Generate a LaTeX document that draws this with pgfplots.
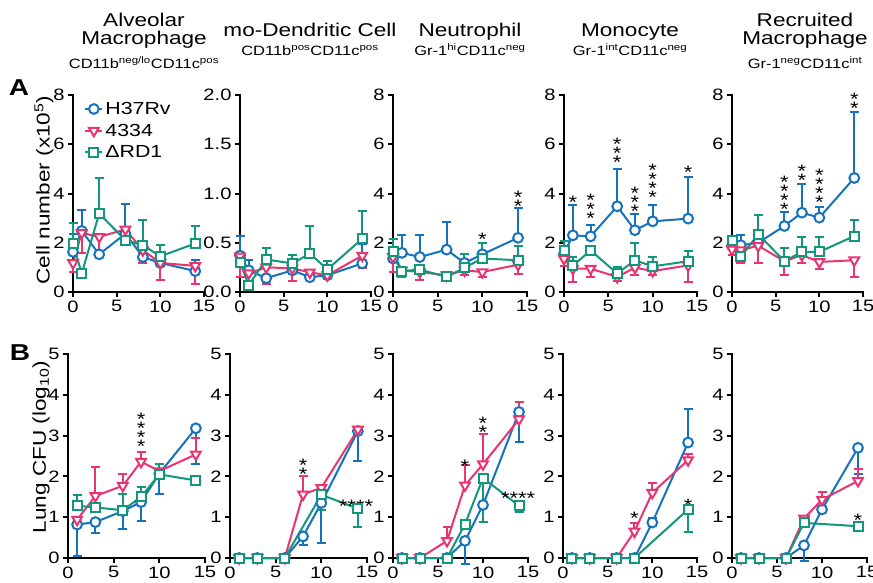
\documentclass[border=0pt]{standalone}
\usepackage{fontspec}
\setmainfont{Liberation Sans}[FakeStretch=1.22]
\usepackage{pgfplots}
\pgfplotsset{compat=1.18}

\definecolor{cb}{RGB}{21,114,189}
\definecolor{cp}{RGB}{233,52,112}
\definecolor{cg}{RGB}{18,150,124}

\newcommand\stfont{\fontsize{18}{9}\selectfont\lineskiplimit=-30pt\relax\lineskip=0pt\relax}
\tikzset{st/.style={font=\stfont, align=center, inner sep=0pt, yshift=-4pt}}
\pgfplotsset{
  gp/.style={
    scale only axis, anchor=south west, clip=false,
    axis lines*=left,
    axis line style={line width=2.2pt, black, line cap=rect},
    tick align=outside, major tick length=5pt,
    tick style={line width=2pt, black},
    xmin=0, xmax=15, xtick={0,5,10,15},
    tick label style={font=\fontsize{16.5}{18}\selectfont},
    /pgf/number format/assume math mode=true,
  },
  rowA/.style={height=197pt, ymin=0, ymax=8, ytick={0,2,4,6,8}},
  rowB/.style={height=204pt, ymin=0, ymax=5, ytick={0,1,2,3,4,5}},
  hs/.style={cb, mark=*, mark size=4.9pt, mark options={fill=white, line width=2pt, solid}},
  ps/.style={cp, mark=triangle*, mark size=5.6pt, mark options={fill=white, line width=2pt, solid, rotate=180}},
  gs/.style={cg, mark=square*, mark size=4.5pt, mark options={fill=white, line width=2pt, solid}},
}

% #1 colour, #2 series style, #3 rows "x y e" (e signed: +up, -down, 0 none)
\newcommand\ser[3]{%
  \addplot[#1, only marks, forget plot,
    restrict expr to domain={\thisrow{e}}{0.001:100},
    error bars/.cd, y dir=plus, y explicit, error mark=-,
    error bar style={line width=2pt},
    error mark options={#1, rotate=90, line width=2pt, mark size=4.5pt}]
    table[x=x, y=y, y error=e, row sep=\\]{x y e\\ #3};
  \addplot[#1, only marks, forget plot,
    restrict expr to domain={\thisrow{e}}{-100:-0.001},
    error bars/.cd, y dir=minus, y explicit, error mark=-,
    error bar style={line width=2pt},
    error mark options={#1, rotate=90, line width=2pt, mark size=4.5pt}]
    table[x=x, y=y, y error expr=-\thisrow{e}, row sep=\\]{x y e\\ #3};
  \addplot[#2, line width=2pt]
    table[x=x, y=y, row sep=\\]{x y e\\ #3};
}

\begin{document}
\begin{tikzpicture}
\path[use as bounding box] (0pt,0pt) rectangle (873pt,582pt);

% column titles
\begin{scope}[every node/.style={anchor=base, inner sep=0pt}]
\node[font=\fontsize{18.5}{20}\selectfont] at (144pt,555pt) {Alveolar};
\node[font=\fontsize{18.5}{20}\selectfont] at (144pt,537pt) {Macrophage};
\node[font=\fontsize{13.5}{15}\selectfont] at (144pt,513pt) {CD11b\textsuperscript{neg/lo}CD11c\textsuperscript{pos}};
\node[font=\fontsize{18.5}{20}\selectfont] at (310pt,545pt) {mo-Dendritic Cell};
\node[font=\fontsize{13.5}{15}\selectfont] at (310pt,526pt) {CD11b\textsuperscript{pos}CD11c\textsuperscript{pos}};
\node[font=\fontsize{18.5}{20}\selectfont] at (470pt,545pt) {Neutrophil};
\node[font=\fontsize{13.5}{15}\selectfont] at (470pt,526pt) {Gr-1\textsuperscript{hi}CD11c\textsuperscript{neg}};
\node[font=\fontsize{18.5}{20}\selectfont] at (630pt,545pt) {Monocyte};
\node[font=\fontsize{13.5}{15}\selectfont] at (630pt,526pt) {Gr-1\textsuperscript{int}CD11c\textsuperscript{neg}};
\node[font=\fontsize{18.5}{20}\selectfont] at (805pt,555pt) {Recruited};
\node[font=\fontsize{18.5}{20}\selectfont] at (805pt,537pt) {Macrophage};
\node[font=\fontsize{13.5}{15}\selectfont] at (805pt,513pt) {Gr-1\textsuperscript{neg}CD11c\textsuperscript{int}};
\end{scope}

\node[font=\bfseries\fontsize{23}{24}\selectfont, inner sep=0pt] at (19pt,494pt) {A};
\node[font=\bfseries\fontsize{23}{24}\selectfont, inner sep=0pt] at (20pt,229pt) {B};
\node[font=\fontsize{18.5}{20}\selectfont, rotate=90, inner sep=0pt] at (44pt,392pt) {Cell number (x10\textsuperscript{5})};
\node[font=\fontsize{18.5}{20}\selectfont, rotate=90, inner sep=0pt] at (41pt,135pt) {Lung CFU (log\textsubscript{10})};

% ---------- row A ----------
\begin{axis}[gp, rowA, at={(73pt,290pt)}, width=131pt,
  legend style={at={(axis description cs:0.085,0.975)}, anchor=north west, draw=none, fill=none,
    font=\fontsize{17.5}{17}\selectfont, row sep=4pt, inner sep=0pt},
  legend cell align=left]
\ser{cb}{hs}{0 1.63 0.74\\ 1 2.48 0.87\\ 3 1.53 0\\ 6 2.37 1.2\\ 8 1.42 0\\ 10 1.18 0\\ 14 0.85 0.44\\}
\addlegendentry{H37Rv}
\ser{cp}{ps}{0 1.18 -0.37\\ 1 2.4 -0.8\\ 3 2.24 -0.82\\ 6 2.54 -0.44\\ 8 1.7 -0.52\\ 10 1.18 -0.71\\ 14 1.06 -0.75\\}
\addlegendentry{4334}
\ser{cg}{gs}{0 1.97 0.83\\ 1 0.75 0\\ 3 3.19 1.42\\ 6 2.1 0\\ 8 1.9 1.02\\ 10 1.45 0.45\\ 14 1.97 0.7\\}
\addlegendentry{ΔRD1}
\end{axis}

\begin{axis}[gp, at={(240pt,290pt)}, width=131pt, height=197pt, ymin=0, ymax=2,
  ytick={0,0.5,1,1.5,2}, yticklabels={0.0,0.5,1.0,1.5,2.0}]
\ser{cb}{hs}{0 0.37 0.2\\ 1 0.22 0.1\\ 3 0.14 0\\ 6 0.22 0\\ 8 0.15 0\\ 10 0.17 0\\ 14 0.29 0.2\\}
\ser{cp}{ps}{0 0.36 -0.21\\ 1 0.19 0\\ 3 0.25 -0.165\\ 6 0.24 -0.13\\ 8 0.2 0\\ 10 0.17 0\\ 14 0.37 -0.13\\}
\ser{cg}{gs}{0 0.3 0\\ 1 0.07 0\\ 3 0.33 0.12\\ 6 0.29 0.09\\ 8 0.39 0.28\\ 10 0.23 0.08\\ 14 0.54 0.28\\}
\end{axis}

\begin{axis}[gp, rowA, at={(393pt,290pt)}, width=134pt]
\ser{cb}{hs}{0 1.36 0\\ 1 1.59 0.71\\ 3 1.42 0.88\\ 6 1.72 1.13\\ 8 1.18 0\\ 10 1.53 0\\ 14 2.2 1.22\\}
\ser{cp}{ps}{0 1.42 -0.61\\ 1 0.88 -0.27\\ 3 0.81 -0.31\\ 6 0.68 0\\ 8 0.88 -0.2\\ 10 0.81 -0.2\\ 14 1.11 -0.36\\}
\ser{cg}{gs}{0 1.65 0.52\\ 1 0.85 0\\ 3 0.91 0\\ 6 0.61 0\\ 8 0.99 0.57\\ 10 1.36 0.61\\ 14 1.29 0.58\\}
\node[st] at (axis cs:10,2.3) {*};
\node[st] at (axis cs:14,3.83) {*\\*};
\end{axis}

\begin{axis}[gp, rowA, at={(564pt,290pt)}, width=133pt]
\ser{cb}{hs}{0 1.56 0\\ 1 2.3 1.23\\ 3 2.26 0.45\\ 6 3.48 1.5\\ 8 2.51 0.65\\ 10 2.87 0.66\\ 14 2.98 1.7\\}
\ser{cp}{ps}{0 1.35 -0.3\\ 1 0.95 -0.54\\ 3 0.95 -0.34\\ 6 0.61 -0.16\\ 8 0.99 -0.31\\ 10 0.85 -0.15\\ 14 1.08 -0.67\\}
\ser{cg}{gs}{0 1.69 0.38\\ 1 1.07 0.35\\ 3 1.69 0\\ 6 0.75 0.27\\ 8 1.29 0.68\\ 10 1.04 0.38\\ 14 1.25 0.42\\}
\node[st] at (axis cs:1,3.8) {*};
\node[st] at (axis cs:3,3.53) {*\\*\\*};
\node[st] at (axis cs:6,5.8) {*\\*\\*};
\node[st] at (axis cs:8,3.8) {*\\*\\*};
\node[st] at (axis cs:10,4.55) {*\\*\\*\\*};
\node[st] at (axis cs:14,5.02) {*};
\end{axis}

\begin{axis}[gp, rowA, at={(732pt,290pt)}, width=131pt]
\ser{cb}{hs}{0 1.88 0\\ 1 1.9 0.41\\ 3 2.0 0\\ 6 2.68 0.56\\ 8 3.22 1.17\\ 10 3.02 0.42\\ 14 4.63 2.69\\}
\ser{cp}{ps}{0 1.73 -0.23\\ 1 1.7 -0.52\\ 3 1.88 -0.7\\ 6 1.25 -0.57\\ 8 1.5 -0.34\\ 10 1.22 -0.27\\ 14 1.29 -0.7\\}
\ser{cg}{gs}{0 2.08 0\\ 1 1.43 0\\ 3 2.35 0.78\\ 6 1.25 0.52\\ 8 1.63 0.61\\ 10 1.63 0.59\\ 14 2.27 0.66\\}
\node[st] at (axis cs:6,4.07) {*\\*\\*\\*};
\node[st] at (axis cs:8,4.89) {*\\*};
\node[st] at (axis cs:10,4.35) {*\\*\\*\\*};
\node[st] at (axis cs:14,7.79) {*\\*};
\end{axis}

% ---------- row B ----------
\begin{axis}[gp, rowB, at={(68pt,24pt)}, width=137pt]
\ser{cb}{hs}{1 0.82 -0.78\\ 3 0.88 -0.27\\ 6 1.15 -0.45\\ 8 1.37 -0.46\\ 10 2.07 -0.49\\ 14 3.18 -0.88\\}
\ser{cp}{ps}{1 0.94 0\\ 3 1.52 0.71\\ 6 1.77 0.28\\ 8 2.36 0.24\\ 10 2.13 0\\ 14 2.54 0.39\\}
\ser{cg}{gs}{1 1.28 0.26\\ 3 1.24 0\\ 6 1.17 0.39\\ 8 1.5 0.24\\ 10 2.05 0.25\\ 14 1.9 0.12\\}
\node[st] at (axis cs:8,3.16) {*\\*\\*\\*};
\end{axis}

\begin{axis}[gp, rowB, at={(230pt,24pt)}, width=137pt]
\ser{cb}{hs}{1 0 0\\ 3 0 0\\ 6 0 0\\ 8 0.53 -0.22\\ 10 1.35 -0.98\\ 14 3.11 -0.73\\}
\ser{cp}{ps}{1 0 0\\ 3 0 0\\ 6 0 0\\ 8 1.56 0.45\\ 10 1.72 0.06\\ 14 3.15 0\\}
\ser{cg}{gs}{1 0 0\\ 3 0 0\\ 6 0 0\\ 10 1.55 -0.38\\ 14 1.21 -0.45\\}
\node[st] at (axis cs:8,2.26) {*\\*};
\node[st] at (axis cs:13.8,1.37) {****};
\end{axis}

\begin{axis}[gp, rowB, at={(393pt,24pt)}, width=135pt]
\ser{cb}{hs}{1 0 0\\ 3 0 0\\ 6 0 0\\ 8 0.42 -0.56\\ 10 1.3 -0.41\\ 14 3.58 -0.74\\}
\ser{cp}{ps}{1 0 0\\ 3 0 0\\ 6 0.42 0.33\\ 8 1.78 0.51\\ 10 2.3 0.73\\ 14 3.4 0.42\\}
\ser{cg}{gs}{1 0 0\\ 3 0 0\\ 6 0 0\\ 8 0.83 -0.11\\ 10 1.96 -1.07\\ 14 1.28 -0.15\\}
\node[st] at (axis cs:8,2.34) {*};
\node[st] at (axis cs:10,3.29) {*\\*};
\node[st] at (axis cs:13.9,1.55) {****};
\end{axis}

\begin{axis}[gp, rowB, at={(563pt,24pt)}, width=134pt]
\ser{cb}{hs}{1 0 0\\ 3 0 0\\ 6 0 0\\ 8 0 0\\ 10 0.87 0.1\\ 14 2.83 0.81\\}
\ser{cp}{ps}{1 0 0\\ 3 0 0\\ 6 0 0\\ 8 0.65 0.21\\ 10 1.6 0.24\\ 14 2.4 0.14\\}
\ser{cg}{gs}{1 0 0\\ 3 0 0\\ 6 0 0\\ 8 0 0\\ 14 1.19 -0.55\\}
\node[st] at (axis cs:8,1.06) {*};
\node[st] at (axis cs:14,1.39) {*};
\end{axis}

\begin{axis}[gp, rowB, at={(732pt,24pt)}, width=135pt]
\ser{cb}{hs}{1 0 0\\ 3 0 0\\ 6 0 0\\ 8 0.31 -0.39\\ 10 1.19 0\\ 14 2.7 -0.65\\}
\ser{cp}{ps}{1 0 0\\ 3 0 0\\ 6 0 0\\ 8 0.97 0\\ 10 1.43 0.19\\ 14 1.89 0.3\\}
\ser{cg}{gs}{1 0 0\\ 3 0 0\\ 6 0 0\\ 8 0.86 0\\ 14 0.78 0\\}
\node[st] at (axis cs:14,1.02) {*};
\end{axis}
\end{tikzpicture}
\end{document}
